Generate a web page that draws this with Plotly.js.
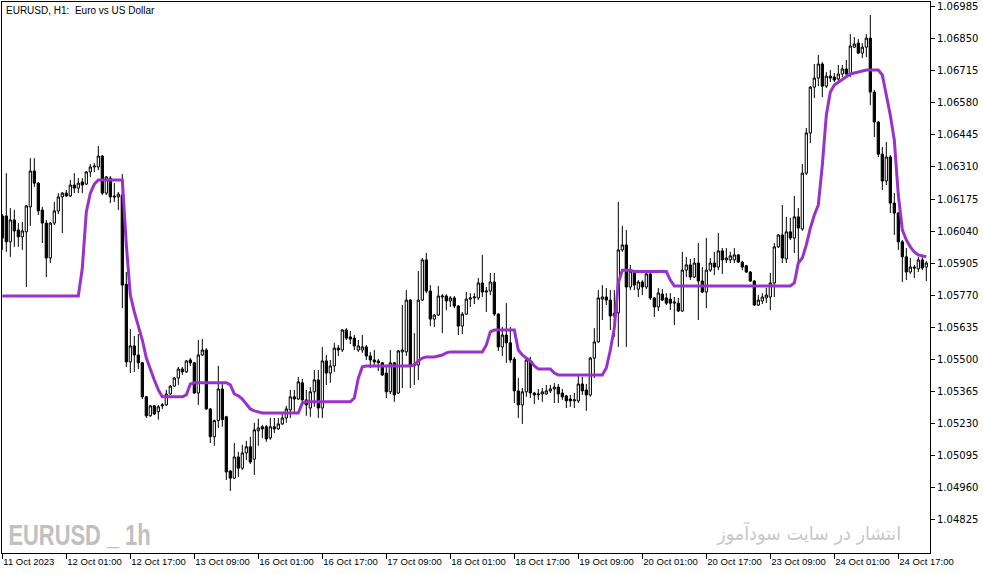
<!DOCTYPE html>
<html><head><meta charset="utf-8">
<script src="https://cdn.plot.ly/plotly-3.0.1.min.js"></script>
<style>html,body{margin:0;padding:0;background:#fff;}#chart{width:983px;height:574px;}</style>
</head><body><div id="chart"></div>
<script>
const open = [
1.06104,1.06104,1.05995,1.06087,1.06045,1.06016,1.06037,1.06142,1.06293,1.06242,
1.06129,1.06074,1.05927,1.06074,1.06125,1.06184,1.06200,1.06188,1.06234,1.06221,
1.06247,1.06238,1.06289,1.06310,1.06310,1.06356,1.06200,1.06263,1.06188,1.06184,
1.06192,1.05817,1.05490,1.05557,1.05519,1.05486,1.05343,1.05263,1.05305,1.05280,
1.05305,1.05309,1.05355,1.05388,1.05422,1.05460,1.05448,1.05498,1.05486,1.05359,
1.05519,1.05540,1.05292,1.05175,1.05243,1.05376,1.05259,1.05031,1.05001,1.05090,
1.05043,1.05107,1.05133,1.05081,1.05200,1.05217,1.05217,1.05170,1.05217,1.05208,
1.05229,1.05254,1.05288,1.05343,1.05334,1.05402,1.05330,1.05296,1.05364,1.05414,
1.05296,1.05494,1.05443,1.05473,1.05548,1.05540,1.05624,1.05595,1.05590,1.05540,
1.05540,1.05553,1.05515,1.05498,1.05494,1.05486,1.05443,1.05364,1.05486,1.05359,
1.05532,1.05532,1.05750,1.05473,1.05477,1.05750,1.05919,1.05788,1.05670,1.05687,
1.05763,1.05767,1.05746,1.05759,1.05725,1.05641,1.05691,1.05754,1.05759,1.05759,
1.05822,1.05784,1.05788,1.05826,1.05691,1.05553,1.05603,1.05570,1.05502,1.05368,
1.05309,1.05364,1.05494,1.05359,1.05351,1.05355,1.05355,1.05368,1.05376,1.05384,
1.05359,1.05347,1.05334,1.05326,1.05326,1.05397,1.05372,1.05351,1.05506,1.05574,
1.05754,1.05763,1.05750,1.05683,1.05696,1.05961,1.05982,1.05805,1.05868,1.05796,
1.05826,1.05805,1.05860,1.05759,1.05721,1.05775,1.05759,1.05754,1.05737,1.05737,
1.05704,1.05876,1.05898,1.05847,1.05906,1.05830,1.05784,1.05876,1.05906,1.05889,
1.05957,1.05919,1.05919,1.05919,1.05940,1.05910,1.05894,1.05868,1.05830,1.05729,
1.05746,1.05759,1.05763,1.05822,1.05974,1.06024,1.05923,1.06037,1.06011,1.06100,
1.06049,1.06284,1.06453,1.06646,1.06684,1.06743,1.06650,1.06692,1.06688,1.06680,
1.06701,1.06722,1.06701,1.06814,1.06831,1.06789,1.06814,1.06852,1.06625,1.06499,
1.06364,1.06251,1.06352,1.06158,1.06116,1.05995,1.05932,1.05868,1.05889,1.05881,
1.05919,1.05889];
const high = [
1.06112,1.06284,1.06137,1.06129,1.06074,1.06079,1.06150,1.06347,1.06347,1.06247,
1.06142,1.06087,1.06079,1.06163,1.06200,1.06205,1.06213,1.06255,1.06284,1.06263,
1.06263,1.06293,1.06322,1.06326,1.06398,1.06360,1.06272,1.06272,1.06242,1.06205,
1.06280,1.05868,1.05628,1.05599,1.05607,1.05490,1.05347,1.05309,1.05309,1.05309,
1.05317,1.05372,1.05393,1.05427,1.05469,1.05469,1.05498,1.05506,1.05490,1.05582,
1.05586,1.05548,1.05296,1.05247,1.05473,1.05406,1.05263,1.05035,1.05149,1.05112,
1.05141,1.05158,1.05175,1.05234,1.05251,1.05225,1.05225,1.05254,1.05254,1.05254,
1.05275,1.05305,1.05372,1.05372,1.05427,1.05418,1.05372,1.05384,1.05456,1.05456,
1.05553,1.05519,1.05498,1.05570,1.05561,1.05628,1.05632,1.05620,1.05603,1.05582,
1.05603,1.05561,1.05532,1.05540,1.05502,1.05490,1.05473,1.05540,1.05490,1.05540,
1.05729,1.05792,1.05754,1.05611,1.05872,1.05927,1.05948,1.05813,1.05691,1.05809,
1.05775,1.05775,1.05767,1.05767,1.05729,1.05700,1.05784,1.05779,1.05779,1.05843,
1.05940,1.05805,1.05864,1.05864,1.05695,1.05637,1.05737,1.05637,1.05511,1.05422,
1.05380,1.05511,1.05511,1.05364,1.05376,1.05380,1.05393,1.05393,1.05401,1.05397,
1.05376,1.05351,1.05351,1.05359,1.05439,1.05427,1.05397,1.05511,1.05632,1.05792,
1.05813,1.05801,1.05792,1.05792,1.06163,1.06062,1.06045,1.05898,1.05876,1.05834,
1.05834,1.05864,1.05864,1.05763,1.05801,1.05796,1.05779,1.05779,1.05763,1.05759,
1.05953,1.05931,1.05923,1.05927,1.05990,1.05889,1.06011,1.05927,1.05953,1.06032,
1.05969,1.05969,1.05953,1.05969,1.05944,1.05915,1.05898,1.05872,1.05834,1.05771,
1.05779,1.05801,1.05864,1.05990,1.06028,1.06150,1.06100,1.06096,1.06188,1.06137,
1.06322,1.06474,1.06650,1.06743,1.06781,1.06751,1.06709,1.06718,1.06705,1.06739,
1.06739,1.06760,1.06869,1.06856,1.06848,1.06831,1.06869,1.06949,1.06634,1.06503,
1.06394,1.06415,1.06360,1.06200,1.06121,1.06003,1.05969,1.05927,1.05898,1.05932,
1.05932,1.05915];
const low = [
1.05961,1.05953,1.05932,1.05974,1.05974,1.05961,1.05805,1.06062,1.06226,1.06108,
1.05990,1.05847,1.05906,1.06066,1.06112,1.06032,1.06184,1.06184,1.06200,1.06200,
1.06200,1.06234,1.06268,1.06289,1.06297,1.06192,1.06192,1.06158,1.06163,1.06129,
1.05716,1.05469,1.05443,1.05448,1.05460,1.05334,1.05254,1.05259,1.05267,1.05247,
1.05292,1.05305,1.05351,1.05384,1.05393,1.05435,1.05443,1.05473,1.05355,1.05309,
1.05515,1.05288,1.05149,1.05137,1.05212,1.05217,1.04993,1.04947,1.04997,1.05006,
1.05035,1.05077,1.05060,1.05014,1.05137,1.05170,1.05154,1.05162,1.05191,1.05204,
1.05225,1.05234,1.05254,1.05271,1.05330,1.05322,1.05263,1.05259,1.05301,1.05254,
1.05254,1.05393,1.05402,1.05448,1.05515,1.05532,1.05582,1.05565,1.05540,1.05532,
1.05528,1.05498,1.05464,1.05477,1.05452,1.05431,1.05338,1.05355,1.05322,1.05355,
1.05380,1.05515,1.05380,1.05393,1.05414,1.05746,1.05779,1.05641,1.05637,1.05683,
1.05611,1.05708,1.05721,1.05716,1.05603,1.05607,1.05687,1.05721,1.05733,1.05750,
1.05763,1.05700,1.05771,1.05683,1.05536,1.05515,1.05486,1.05486,1.05317,1.05254,
1.05229,1.05343,1.05338,1.05313,1.05330,1.05322,1.05351,1.05359,1.05317,1.05317,
1.05330,1.05296,1.05301,1.05296,1.05317,1.05351,1.05284,1.05343,1.05422,1.05570,
1.05666,1.05729,1.05624,1.05595,1.05553,1.05953,1.05553,1.05792,1.05792,1.05763,
1.05771,1.05796,1.05750,1.05679,1.05704,1.05746,1.05729,1.05708,1.05645,1.05700,
1.05700,1.05847,1.05834,1.05843,1.05666,1.05779,1.05716,1.05868,1.05855,1.05876,
1.05860,1.05906,1.05906,1.05906,1.05906,1.05876,1.05864,1.05826,1.05725,1.05725,
1.05733,1.05738,1.05708,1.05763,1.05969,1.05906,1.05906,1.06003,1.05948,1.05906,
1.06041,1.06276,1.06410,1.06600,1.06650,1.06604,1.06642,1.06667,1.06667,1.06667,
1.06688,1.06697,1.06688,1.06810,1.06785,1.06768,1.06772,1.06570,1.06436,1.06352,
1.06213,1.06234,1.06116,1.06024,1.05961,1.05826,1.05834,1.05860,1.05843,1.05868,
1.05876,1.05830];
const close = [
1.06011,1.05995,1.06087,1.06041,1.06016,1.06041,1.06146,1.06293,1.06242,1.06125,
1.06074,1.05927,1.06074,1.06125,1.06184,1.06200,1.06188,1.06234,1.06221,1.06242,
1.06234,1.06289,1.06310,1.06314,1.06356,1.06200,1.06268,1.06184,1.06184,1.06196,
1.05813,1.05490,1.05557,1.05519,1.05486,1.05343,1.05263,1.05305,1.05271,1.05301,
1.05309,1.05355,1.05388,1.05422,1.05460,1.05448,1.05494,1.05486,1.05359,1.05519,
1.05540,1.05292,1.05175,1.05243,1.05376,1.05247,1.05027,1.05001,1.05090,1.05043,
1.05107,1.05133,1.05069,1.05204,1.05212,1.05208,1.05166,1.05217,1.05208,1.05229,
1.05254,1.05292,1.05343,1.05334,1.05406,1.05330,1.05309,1.05364,1.05414,1.05296,
1.05494,1.05443,1.05473,1.05548,1.05540,1.05624,1.05590,1.05586,1.05557,1.05557,
1.05553,1.05515,1.05498,1.05490,1.05486,1.05435,1.05364,1.05486,1.05351,1.05536,
1.05540,1.05750,1.05473,1.05481,1.05750,1.05919,1.05788,1.05670,1.05687,1.05767,
1.05767,1.05746,1.05759,1.05725,1.05641,1.05691,1.05754,1.05759,1.05763,1.05822,
1.05784,1.05788,1.05826,1.05691,1.05553,1.05603,1.05570,1.05498,1.05368,1.05309,
1.05364,1.05498,1.05359,1.05351,1.05355,1.05364,1.05368,1.05376,1.05384,1.05355,
1.05343,1.05326,1.05326,1.05330,1.05397,1.05368,1.05351,1.05506,1.05574,1.05759,
1.05763,1.05750,1.05683,1.05695,1.05961,1.05982,1.05805,1.05872,1.05813,1.05826,
1.05805,1.05860,1.05759,1.05721,1.05780,1.05750,1.05737,1.05737,1.05742,1.05704,
1.05876,1.05898,1.05847,1.05906,1.05830,1.05784,1.05876,1.05906,1.05889,1.05957,
1.05919,1.05927,1.05936,1.05940,1.05910,1.05889,1.05868,1.05830,1.05729,1.05750,
1.05763,1.05771,1.05822,1.05974,1.06024,1.05927,1.06037,1.06011,1.06100,1.06053,
1.06284,1.06453,1.06646,1.06684,1.06743,1.06650,1.06692,1.06684,1.06676,1.06701,
1.06722,1.06701,1.06819,1.06827,1.06789,1.06814,1.06852,1.06625,1.06499,1.06364,
1.06251,1.06352,1.06158,1.06116,1.05995,1.05932,1.05868,1.05889,1.05885,1.05919,
1.05885,1.05906];
const indicator = [
1.05767,1.05767,1.05767,1.05767,1.05767,1.05767,1.05767,1.05767,1.05767,1.05767,
1.05767,1.05767,1.05767,1.05767,1.05767,1.05767,1.05767,1.05767,1.05767,1.05767,
1.05885,1.06121,1.06200,1.06238,1.06255,1.06255,1.06255,1.06255,1.06255,1.06255,
1.06255,1.05982,1.05771,1.05700,1.05645,1.05582,1.05506,1.05456,1.05414,1.05372,
1.05343,1.05343,1.05343,1.05343,1.05343,1.05343,1.05351,1.05397,1.05402,1.05402,
1.05402,1.05402,1.05402,1.05402,1.05402,1.05402,1.05402,1.05393,1.05355,1.05347,
1.05334,1.05313,1.05292,1.05284,1.05280,1.05275,1.05275,1.05275,1.05275,1.05275,
1.05275,1.05275,1.05275,1.05275,1.05275,1.05317,1.05322,1.05322,1.05322,1.05322,
1.05322,1.05322,1.05322,1.05322,1.05322,1.05322,1.05322,1.05322,1.05338,1.05422,
1.05469,1.05473,1.05473,1.05473,1.05473,1.05473,1.05473,1.05473,1.05473,1.05473,
1.05473,1.05473,1.05473,1.05477,1.05494,1.05506,1.05511,1.05511,1.05511,1.05515,
1.05519,1.05528,1.05532,1.05532,1.05532,1.05532,1.05532,1.05532,1.05532,1.05532,
1.05532,1.05561,1.05616,1.05624,1.05624,1.05624,1.05624,1.05624,1.05624,1.05540,
1.05519,1.05506,1.05494,1.05473,1.05460,1.05460,1.05460,1.05460,1.05443,1.05435,
1.05435,1.05435,1.05435,1.05435,1.05435,1.05435,1.05435,1.05435,1.05435,1.05435,
1.05435,1.05464,1.05540,1.05632,1.05822,1.05876,1.05876,1.05876,1.05870,1.05870,
1.05870,1.05870,1.05870,1.05870,1.05870,1.05870,1.05870,1.05834,1.05809,1.05809,
1.05809,1.05809,1.05809,1.05809,1.05809,1.05809,1.05809,1.05809,1.05809,1.05809,
1.05809,1.05809,1.05809,1.05809,1.05809,1.05809,1.05809,1.05809,1.05809,1.05809,
1.05809,1.05809,1.05809,1.05809,1.05809,1.05809,1.05809,1.05809,1.05822,1.05906,
1.05927,1.05982,1.06053,1.06108,1.06150,1.06318,1.06528,1.06625,1.06655,1.06667,
1.06680,1.06692,1.06701,1.06705,1.06709,1.06713,1.06718,1.06718,1.06718,1.06718,
1.06697,1.06613,1.06528,1.06423,1.06192,1.06045,1.06003,1.05974,1.05953,1.05940,
1.05936,1.05932];

const xTickIndex = [0,16,32,48,64,80,96,112,128,144,160,176,192,208,224];
const xTickLabels = ['11 Oct 2023','12 Oct 01:00','12 Oct 17:00','13 Oct 09:00','16 Oct 01:00',
  '16 Oct 17:00','17 Oct 09:00','18 Oct 01:00','18 Oct 17:00','19 Oct 09:00','20 Oct 01:00',
  '20 Oct 17:00','23 Oct 09:00','24 Oct 01:00','24 Oct 17:00'];
const yTickValues = [1.04825,1.04960,1.05095,1.05230,1.05365,1.05500,1.05635,1.05770,1.05905,
  1.06040,1.06175,1.06310,1.06445,1.06580,1.06715,1.06850,1.06985];
const yTickLabels = ['1.04825','1.04960','1.05095','1.05230','1.05365','1.05500','1.05635','1.05770','1.05905',
  '1.06040','1.06175','1.06310','1.06445','1.06580','1.06715','1.06850','1.06985'];

const bars = open.map((_, i) => i);

const traces = [
  {
    type: 'candlestick', x: bars, open: open, high: high, low: low, close: close,
    increasing: {line: {color: '#000000', width: 1}, fillcolor: '#ffffff'},
    decreasing: {line: {color: '#000000', width: 1}, fillcolor: '#000000'},
    whiskerwidth: 0, hoverinfo: 'skip', showlegend: false
  },
  {
    type: 'scatter', mode: 'lines', x: bars, y: indicator,
    line: {color: '#9932CC', width: 3}, hoverinfo: 'skip', showlegend: false
  }
];

const layout = {
  width: 983, height: 574,
  margin: {l: 2, r: 53, t: 2, b: 21},
  paper_bgcolor: '#ffffff', plot_bgcolor: '#ffffff',
  showlegend: false,
  boxgap: 0.25, boxgroupgap: 0.25,
  title: {
    text: 'EURUSD, H1:\u00a0 Euro vs US Dollar',
    x: 6/983, xref: 'container', xanchor: 'left',
    y: 1 - 10/574, yref: 'container', yanchor: 'middle',
    font: {family: 'Liberation Sans, Arial, sans-serif', size: 10, color: '#000000'}
  },
  xaxis: {
    type: 'linear', range: [-0.08, 231.92], fixedrange: true,
    showgrid: false, zeroline: false,
    showline: true, mirror: true, linecolor: '#000000', linewidth: 1,
    ticks: 'outside', ticklen: 5, tickcolor: '#000000', tickwidth: 1,
    tickmode: 'array', tickvals: xTickIndex, ticktext: xTickLabels,
    tickangle: 0,
    ticklabelposition: 'outside right',
    tickfont: {family: 'Liberation Sans, Arial, sans-serif', size: 9.5, color: '#000000'},
    rangeslider: {visible: false}
  },
  yaxis: {
    side: 'right', range: [1.04686, 1.07004], fixedrange: true,
    showgrid: false, zeroline: false,
    showline: true, mirror: true, linecolor: '#000000', linewidth: 1,
    ticks: 'outside', ticklen: 4, tickcolor: '#000000', tickwidth: 1,
    tickmode: 'array', tickvals: yTickValues, ticktext: yTickLabels,
    tickfont: {family: 'DejaVu Sans, sans-serif', size: 10, color: '#000000'}
  },
  annotations: [
    {
      text: 'EURUSD _ 1h', xref: 'paper', yref: 'paper',
      x: 77/928, y: 19/551, xanchor: 'center', yanchor: 'middle', showarrow: false,
      font: {family: 'Liberation Sans, sans-serif', size: 30, color: '#c0c0c0', weight: 700}
    },
    {
      text: 'انتشار در سایت سودآموز', xref: 'paper', yref: 'paper',
      x: 806/928, y: 20/551, xanchor: 'center', yanchor: 'middle', showarrow: false,
      font: {family: 'DejaVu Sans, sans-serif', size: 19, color: '#c8c8c8'}
    }
  ]
};

Plotly.newPlot('chart', traces, layout, {displayModeBar: false, staticPlot: true}).then(function () {
  // condense the watermark glyphs to the narrow look of the original
  const texts = document.querySelectorAll('.annotation-text');
  const targets = [142, 184];
  texts.forEach(function (t, i) {
    if (targets[i]) {
      t.setAttribute('textLength', targets[i]);
      t.setAttribute('lengthAdjust', 'spacingAndGlyphs');
    }
  });
});
</script>
</body></html>
